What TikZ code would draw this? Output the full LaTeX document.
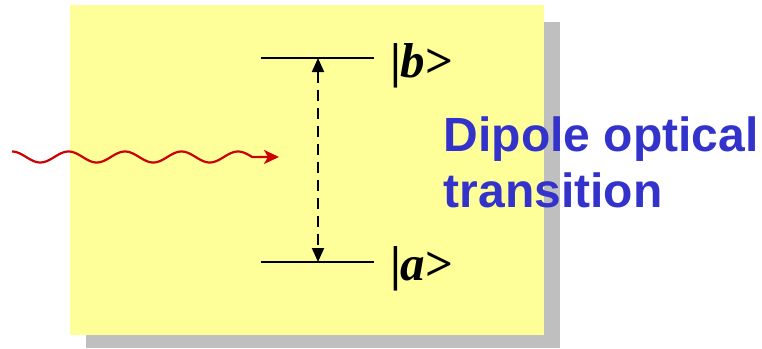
\documentclass[tikz,border=0pt]{standalone}
\usepackage{fontspec}
\setmainfont{Liberation Serif}
\newfontfamily\arialfont{Liberation Sans}
\usetikzlibrary{arrows.meta}
\definecolor{panelyellow}{HTML}{FFFF99}
\definecolor{shadowgray}{HTML}{BFBFBF}
\definecolor{titleblue}{HTML}{3333CC}
\definecolor{wavered}{HTML}{CC0000}
\tikzset{
  level/.style={line width=2.2pt, black},
  transarrow/.style={line width=2pt, dash pattern=on 11pt off 7pt, {Triangle[length=14pt,width=12pt]}-{Triangle[length=14pt,width=12pt]}},
  ketlabel/.style={anchor=base west, inner sep=0pt, font=\fontsize{49}{52}\selectfont\bfseries},
  titletext/.style={anchor=base west, inner sep=0pt, text=titleblue, font=\arialfont\fontsize{48}{55}\selectfont\bfseries},
  photon/.style={line width=2.2pt, wavered, -{Stealth[length=15pt,width=14pt,inset=4pt]}}
}
\begin{document}
\begin{tikzpicture}[x=1pt,y=-1pt]
\useasboundingbox (0,0) rectangle (762,348);
% shadow and panel
\fill[shadowgray] (86,22) rectangle (560,348);
\fill[panelyellow] (70,5) rectangle (544,335);
% levels
\coordinate (bL) at (261,58);
\coordinate (bR) at (374,58);
\coordinate (aL) at (261,262);
\coordinate (aR) at (374,262);
\coordinate (bM) at (318,58);
\coordinate (aM) at (318,262);
\draw[level] (bL) -- (bR);
\draw[level] (aL) -- (aR);
\draw[transarrow] (bM) -- (aM);
% labels
\node[ketlabel] (kb) at (390,77) {|\textit{b}>};
\node[ketlabel] (ka) at (390,280) {|\textit{a}>};
\node[titletext] (t1) at (443.5,151) {Dipole optical};
\node[titletext] (t2) at (443.5,207) {transition};
% photon
\coordinate (wS) at (12,157);
\coordinate (wE) at (252,157);
\coordinate (wT) at (279,157);
\draw[photon] plot[domain=12:252, samples=240, smooth] (\x, {157-5.5*cos(6.3717*(\x-12))}) -- (wT);
\end{tikzpicture}
\end{document}
